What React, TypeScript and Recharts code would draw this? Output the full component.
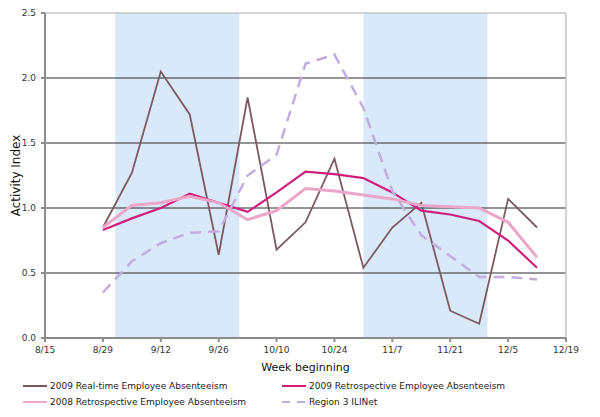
import React from 'react'
import {
  LineChart,
  Line,
  XAxis,
  YAxis,
  ReferenceArea,
  ReferenceLine,
  Legend
} from 'recharts'

// week beginning dates (2009)
const weeks = ['8/29', '9/5', '9/12', '9/19', '9/26', '10/3', '10/10', '10/17', '10/24', '10/31', '11/7', '11/14', '11/21', '11/28', '12/5', '12/12']

const realTime2009 = [0.85, 1.27, 2.05, 1.72, 0.64, 1.85, 0.68, 0.89, 1.38, 0.54, 0.85, 1.04, 0.21, 0.11, 1.07, 0.85]
const retro2009 = [0.83, 0.92, 1.0, 1.11, 1.04, 0.97, 1.12, 1.28, 1.26, 1.23, 1.12, 0.98, 0.95, 0.9, 0.75, 0.54]
const retro2008 = [0.85, 1.02, 1.04, 1.09, 1.04, 0.91, 0.98, 1.15, 1.13, 1.1, 1.07, 1.02, 1.01, 1.0, 0.89, 0.62]
const iliNet = [0.35, 0.59, 0.73, 0.81, 0.82, 1.25, 1.41, 2.11, 2.18, 1.77, 1.13, 0.79, 0.63, 0.47, 0.47, 0.45]

const xTickLabels = ['8/15', '8/29', '9/12', '9/26', '10/10', '10/24', '11/7', '11/21', '12/5', '12/19']
const yTicks = [0, 0.5, 1, 1.5, 2, 2.5]
const gridValues = [0.5, 1, 1.5, 2]
// shaded months
const bands = [['9/1', '10/1'], ['10/31', '11/30']]
const seriesOrder = ['rt', 'r09', 'r08', 'ili']

const toDay = (md: string) => {
  const [m, d] = md.split('/').map(Number)
  return Math.round((Date.UTC(2009, m - 1, d) - Date.UTC(2009, 7, 15)) / 86400000)
}

const data = weeks.map((w, i) => ({
  day: toDay(w),
  rt: realTime2009[i],
  r09: retro2009[i],
  r08: retro2008[i],
  ili: iliNet[i]
}))

const dayToLabel: Record<number, string> = {}
xTickLabels.forEach(l => { dayToLabel[toDay(l)] = l })

const FONT = '"DejaVu Sans", Verdana, sans-serif'

const LegendContent = ({ payload }: any) => {
  const items = [...(payload || [])].sort(
    (a: any, b: any) => seriesOrder.indexOf(a.dataKey) - seriesOrder.indexOf(b.dataKey)
  )
  return (
    <div style={{ display: 'grid', gridTemplateColumns: '259px 280px', rowGap: 3, fontFamily: FONT, fontSize: 9, color: '#222' }}>
      {items.map((p: any) => (
        <div key={p.value} style={{ display: 'flex', alignItems: 'center', height: 13 }}>
          <svg width={26} height={10} style={{ marginRight: 1 }}>
            <line x1={0} x2={24} y1={5} y2={5} stroke={p.color} strokeWidth={2}
              strokeDasharray={p.payload && p.payload.strokeDasharray ? '8 7' : undefined} />
          </svg>
          <span>{p.value}</span>
        </div>
      ))}
    </div>
  )
}

const App = () => {
  return (
    <div style={{ margin: -8, position: 'relative', width: 600, height: 417, background: '#fff' }}>
      <LineChart width={600} height={417} data={data} margin={{ top: 13, right: 34, left: 0, bottom: 45 }}>
        {bands.map(([a, b]) => (
          <ReferenceArea key={a} x1={toDay(a)} x2={toDay(b)} y1={0} y2={2.5} fill="#dae9fa" fillOpacity={1} stroke="none" />
        ))}
        {gridValues.map(v => (
          <ReferenceLine key={v} y={v} stroke="#2a2a2a" strokeWidth={1} />
        ))}
        <ReferenceLine y={2.5} stroke="#c4c4c4" strokeWidth={1.5} />
        <ReferenceLine x={126} stroke="#c4c4c4" strokeWidth={1.5} />
        <XAxis
          dataKey="day"
          type="number"
          domain={[0, 126]}
          ticks={xTickLabels.map(toDay)}
          tickFormatter={(d: number) => dayToLabel[d]}
          interval={0}
          height={34}
          tickSize={4}
          tickMargin={5}
          stroke="#8c8c8c"
          strokeWidth={2}
          tick={{ fill: '#333', fontSize: 9, fontFamily: FONT }}
          label={{ value: 'Week beginning', position: 'insideBottom', offset: 1, fill: '#111', fontSize: 11, fontFamily: FONT }}
        />
        <YAxis
          type="number"
          domain={[0, 2.5]}
          ticks={yTicks}
          tickFormatter={(v: number) => v.toFixed(1)}
          width={45}
          tickSize={4}
          tickMargin={5}
          stroke="#8c8c8c"
          strokeWidth={2}
          tick={{ fill: '#333', fontSize: 9, fontFamily: FONT }}
          label={{ value: 'Activity Index', angle: -90, position: 'insideLeft', offset: 16, fill: '#111', fontSize: 12, fontFamily: FONT, style: { textAnchor: 'middle' } }}
        />
        <Legend
          layout="horizontal"
          verticalAlign="middle"
          align="center"
          wrapperStyle={{ top: 379, left: 23, width: 560, height: 34 }}
          content={<LegendContent />}
        />
        <Line name="2009 Real-time Employee Absenteeism" dataKey="rt" stroke="#7a5a5f" strokeWidth={1.8} dot={false} isAnimationActive={false} />
        <Line name="2009 Retrospective Employee Absenteeism" dataKey="r09" stroke="#cf1e7e" strokeWidth={2.2} dot={false} isAnimationActive={false} />
        <Line name="2008 Retrospective Employee Absenteeism" dataKey="r08" stroke="#eca6c9" strokeWidth={3} dot={false} isAnimationActive={false} />
        <Line name="Region 3 ILINet" dataKey="ili" stroke="#c2addf" strokeWidth={2.5} strokeDasharray="11 7" dot={false} isAnimationActive={false} />
      </LineChart>
      <div style={{ position: 'absolute', left: 1, top: 1, width: 595, height: 412, border: '1.5px solid #606060', pointerEvents: 'none' }} />
    </div>
  )
}

export default App
